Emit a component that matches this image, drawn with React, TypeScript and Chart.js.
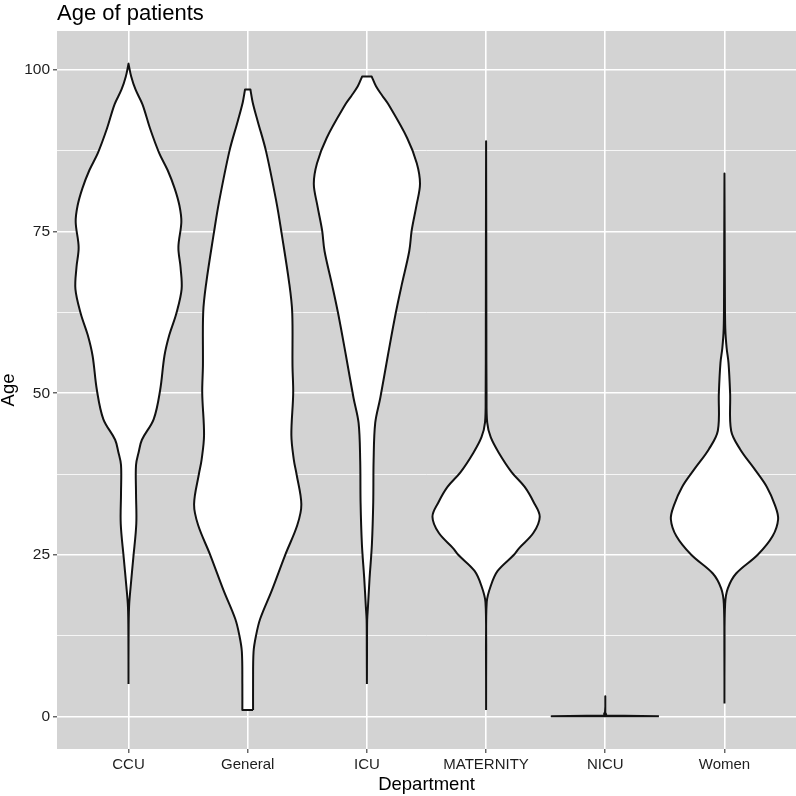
import React, { useEffect, useRef } from "react";
import { Chart, registerables } from "chart.js";

Chart.register(...registerables);

// ---- Data -------------------------------------------------------------
const departments = ["CCU", "General", "ICU", "MATERNITY", "NICU", "Women"];
const yTickValues = [0, 25, 50, 75, 100];
const yMinorValues = [12.5, 37.5, 62.5, 87.5];

// Each violin: ages (bottom -> top) and scaled density (1 = widest point)
const ccuAge = [5, 12, 16.9, 20.1, 24.6, 29.8, 34.5, 38.9, 40.9, 42.8, 46.0, 50.5, 55.8, 59, 62.3, 66.1, 69.5, 72.6, 76.5, 79, 81.7, 84.5, 87.2, 91, 94.7, 97, 99, 101];
const ccuDensity = [0, 0.002, 0.01, 0.04, 0.09, 0.145, 0.14, 0.14, 0.19, 0.25, 0.47, 0.59, 0.67, 0.76, 0.89, 0.99, 0.97, 0.93, 0.985, 0.95, 0.86, 0.73, 0.57, 0.4, 0.26, 0.13, 0.05, 0];

const generalAge = [1, 5, 10, 12.5, 15.1, 19.5, 25, 29.6, 32.8, 37.5, 39.7, 43.5, 50, 54.2, 62.5, 66.9, 75, 79.5, 87.5, 92.1, 95, 97];
const generalDensity = [0.1, 0.1, 0.109, 0.155, 0.233, 0.45, 0.7, 0.925, 1.0, 0.91, 0.86, 0.814, 0.848, 0.835, 0.83, 0.776, 0.627, 0.537, 0.34, 0.186, 0.093, 0.05];

const icuAge = [5, 10, 14.9, 17, 21.4, 26.6, 33.1, 39.6, 45.4, 49.3, 55.8, 62.3, 66.8, 72.0, 75.2, 79.1, 82.4, 85.6, 89.5, 94.7, 96, 97.5, 99];
const icuDensity = [0, 0.002, 0.005, 0.02, 0.05, 0.093, 0.118, 0.125, 0.155, 0.25, 0.39, 0.535, 0.65, 0.79, 0.835, 0.925, 0.99, 0.93, 0.75, 0.4, 0.29, 0.17, 0.09];

const maternityAge = [1, 10, 17.7, 20.1, 22.5, 25, 26.0, 28.4, 30.9, 33.1, 35.5, 37.8, 40.8, 43.2, 45.5, 50, 60, 75, 89];
const maternityDensity = [0, 0.002, 0.012, 0.083, 0.215, 0.52, 0.613, 0.883, 1.0, 0.89, 0.72, 0.475, 0.236, 0.086, 0.02, 0.008, 0.005, 0.003, 0];

const nicuAge = [0, 0.15, 0.5, 1.5, 3.1];
const nicuDensity = [1, 0.02, 0.006, 0.003, 0];

const womenAge = [2, 10, 17.4, 19.8, 22.1, 25, 27.9, 30.5, 32.6, 35.5, 38.4, 41.3, 44.2, 50, 54.7, 57, 60, 65, 75, 84];
const womenDensity = [0, 0.002, 0.012, 0.062, 0.217, 0.62, 0.898, 1.0, 0.944, 0.79, 0.548, 0.294, 0.124, 0.105, 0.075, 0.04, 0.015, 0.008, 0.004, 0];

const profiles: [number[], number[]][] = [
  [ccuAge, ccuDensity],
  [generalAge, generalDensity],
  [icuAge, icuDensity],
  [maternityAge, maternityDensity],
  [nicuAge, nicuDensity],
  [womenAge, womenDensity],
];

const HALF_WIDTH = 0.45;

// Closed outline: right side bottom->top, left side top->bottom.
// End points are repeated so the smoothed curve keeps crisp corners at flat ends.
function violinPoints(center: number, ages: number[], dens: number[]) {
  const right = ages.map((a, i) => ({ x: center + dens[i] * HALF_WIDTH, y: a }));
  const left = ages.map((a, i) => ({ x: center - dens[i] * HALF_WIDTH, y: a })).reverse();
  const rTop = right[right.length - 1];
  const lBottom = left[left.length - 1];
  return [
    right[0],
    ...right,
    rTop,
    left[0],
    ...left,
    lBottom,
    right[0],
    right[0],
  ];
}

const FONT = '"Liberation Sans", Arial, Helvetica, sans-serif';

const panelPlugin = {
  id: "panelBg",
  beforeDraw(chart: any) {
    const { ctx, chartArea, width, height } = chart;
    ctx.save();
    ctx.fillStyle = "#ffffff";
    ctx.fillRect(0, 0, width, height);
    ctx.fillStyle = "#d3d3d3";
    ctx.fillRect(chartArea.left, chartArea.top, chartArea.right - chartArea.left, chartArea.bottom - chartArea.top);
    ctx.restore();
  },
  afterDraw(chart: any) {
    const { ctx, chartArea } = chart;
    ctx.save();
    ctx.fillStyle = "#000000";
    ctx.font = `22px ${FONT}`;
    ctx.textBaseline = "alphabetic";
    ctx.textAlign = "left";
    ctx.fillText("Age of patients", chartArea.left, 19.5);
    ctx.restore();
  },
};

export default function App() {
  const ref = useRef<HTMLCanvasElement | null>(null);

  useEffect(() => {
    if (!ref.current) return;
    Chart.defaults.font.family = FONT;
    const isMajor = (v: number) => yTickValues.includes(v);
    const allY = [...yTickValues, ...yMinorValues].sort((a, b) => a - b);

    const chart = new Chart(ref.current, {
      type: "line",
      data: {
        datasets: profiles.map(([ages, dens], i) => ({
          label: departments[i],
          data: violinPoints(i + 1, ages, dens),
          borderColor: "#111111",
          borderWidth: 2,
          borderJoinStyle: "round",
          backgroundColor: "#ffffff",
          fill: "shape",
          pointRadius: 0,
          pointHoverRadius: 0,
          tension: i === 4 ? 0 : 0.35,
        })),
      },
      options: {
        animation: false,
        responsive: false,
        maintainAspectRatio: false,
        events: [],
        layout: { padding: { top: 31, left: 0, right: 0, bottom: 0 } },
        plugins: {
          legend: { display: false },
          tooltip: { enabled: false },
          title: { display: false },
        },
        scales: {
          x: {
            type: "linear",
            min: 0.4,
            max: 6.6,
            afterBuildTicks: (s: any) => {
              s.ticks = departments.map((_, i) => ({ value: i + 1 }));
            },
            afterFit: (s: any) => {
              s.height = 47;
            },
            ticks: {
              autoSkip: false,
              maxRotation: 0,
              padding: 3,
              color: "#1e1e1e",
              font: { size: 15 },
              callback: (v: any) => departments[Math.round(Number(v)) - 1] ?? "",
            },
            grid: {
              color: "#ffffff",
              lineWidth: 1.6,
              tickColor: "#333333",
              tickLength: 4,
              tickWidth: 1.1,
            },
            border: { display: false },
            title: {
              display: true,
              text: "Department",
              color: "#000000",
              font: { size: 18.5, lineHeight: 1.2 },
              padding: { top: 0, bottom: 0 },
            },
          },
          y: {
            type: "linear",
            min: -5.05,
            max: 106.05,
            afterBuildTicks: (s: any) => {
              s.ticks = allY.map((v) => ({ value: v }));
            },
            afterFit: (s: any) => {
              s.width = 57;
            },
            ticks: {
              autoSkip: false,
              padding: 3,
              color: "#1e1e1e",
              font: { size: 15.5 },
              callback: (v: any) => (isMajor(Number(v)) ? String(v) : ""),
            },
            grid: {
              color: "#ffffff",
              lineWidth: (c: any) => (isMajor(c.tick?.value) ? 1.6 : 0.8),
              tickColor: (c: any) => (isMajor(c.tick?.value) ? "#333333" : "rgba(0,0,0,0)"),
              tickLength: 4,
              tickWidth: 1.1,
            },
            border: { display: false },
            title: {
              display: true,
              text: "Age",
              color: "#000000",
              font: { size: 18.5, lineHeight: 1 },
              padding: { top: 0, bottom: 0 },
            },
          },
        },
      } as any,
      plugins: [panelPlugin],
    });
    return () => chart.destroy();
  }, []);

  return (
    <div style={{ position: "fixed", left: 0, top: 0, width: 796, height: 796, background: "#fff" }}>
      <canvas ref={ref} width={796} height={796} style={{ width: 796, height: 796, display: "block" }} />
    </div>
  );
}
